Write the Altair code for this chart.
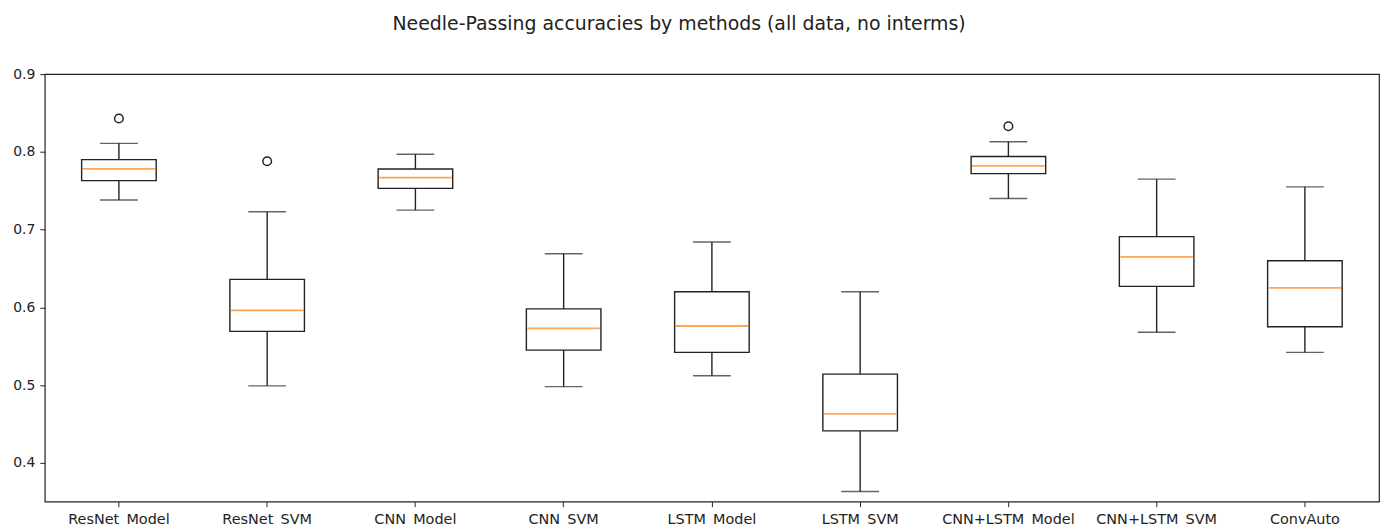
import altair as alt
import pandas as pd

methods = ["ResNet_Model", "ResNet_SVM", "CNN_Model", "CNN_SVM", "LSTM_Model",
           "LSTM_SVM", "CNN+LSTM_Model", "CNN+LSTM_SVM", "ConvAuto"]
whisker_low = [0.738, 0.499, 0.725, 0.498, 0.512, 0.363, 0.740, 0.568, 0.542]
q1 = [0.763, 0.569, 0.753, 0.545, 0.542, 0.441, 0.772, 0.627, 0.575]
median = [0.778, 0.596, 0.767, 0.573, 0.576, 0.463, 0.782, 0.665, 0.625]
q3 = [0.790, 0.636, 0.778, 0.598, 0.620, 0.514, 0.794, 0.691, 0.660]
whisker_high = [0.811, 0.723, 0.797, 0.669, 0.684, 0.620, 0.813, 0.765, 0.755]
outlier_methods = ["ResNet_Model", "ResNet_SVM", "CNN+LSTM_Model"]
outlier_values = [0.843, 0.788, 0.833]
y_ticks = [0.4, 0.5, 0.6, 0.7, 0.8, 0.9]

stats = pd.DataFrame({
    "method": methods, "low": whisker_low, "q1": q1, "med": median,
    "q3": q3, "high": whisker_high,
})
outl = pd.DataFrame({"method": outlier_methods, "value": outlier_values})

LINE = "#222"
x_enc = alt.X(
    "method:N", sort=methods, title=None,
    scale=alt.Scale(paddingInner=0, paddingOuter=0),
    axis=alt.Axis(labelAngle=0, tickSize=5, labelPadding=6, labelFontSize=14.5,
                  labelColor="#222", tickColor=LINE, domain=False,
                  labelFont="DejaVu Sans", labelOverlap=False),
)
y_scale = alt.Scale(domain=[0.35, 0.9], nice=False, zero=False)
y_axis = alt.Axis(values=y_ticks, format=".1f", grid=False, tickSize=5, labelPadding=5,
                  labelFontSize=14, labelColor="#222", tickColor=LINE, domain=False,
                  labelFont="DejaVu Sans")

base = alt.Chart(stats)

whisk = base.mark_rule(color=LINE, strokeWidth=1.4).encode(
    x=x_enc,
    y=alt.Y("low:Q", scale=y_scale, axis=y_axis, title=None),
    y2="high:Q",
)
cap_low = base.mark_tick(color=LINE, size=38, thickness=1.4).encode(
    x=x_enc, y=alt.Y("low:Q", scale=y_scale, title=None))
cap_high = base.mark_tick(color=LINE, size=38, thickness=1.4).encode(
    x=x_enc, y=alt.Y("high:Q", scale=y_scale, title=None))
box = base.mark_bar(size=75, fill="white", stroke=LINE, strokeWidth=1.4).encode(
    x=x_enc, y=alt.Y("q1:Q", scale=y_scale, title=None), y2="q3:Q")
med = base.mark_tick(color="#ff7f0e", size=73, thickness=1.8).encode(
    x=x_enc, y=alt.Y("med:Q", scale=y_scale, title=None))
pts = alt.Chart(outl).mark_point(shape="circle", filled=False, color=LINE,
                                 size=75, strokeWidth=1.5, opacity=1).encode(
    x=x_enc, y=alt.Y("value:Q", scale=y_scale, title=None))

chart = alt.layer(whisk, cap_low, cap_high, box, med, pts).properties(
    width=1342, height=430,
    title=alt.TitleParams(
        "Needle-Passing accuracies by methods (all data, no interms)",
        font="DejaVu Sans", fontSize=19, fontWeight="normal", color="#222",
        anchor="middle", offset=33, dx=-33,
    ),
    autosize=alt.AutoSizeParams(type="none"),
    padding={"left": 37, "top": 65, "right": 3, "bottom": 30},
).configure(background="white").configure_view(stroke=LINE, strokeWidth=1.2)

chart.save("out.html", embed_options={"renderer": "svg", "actions": False})
